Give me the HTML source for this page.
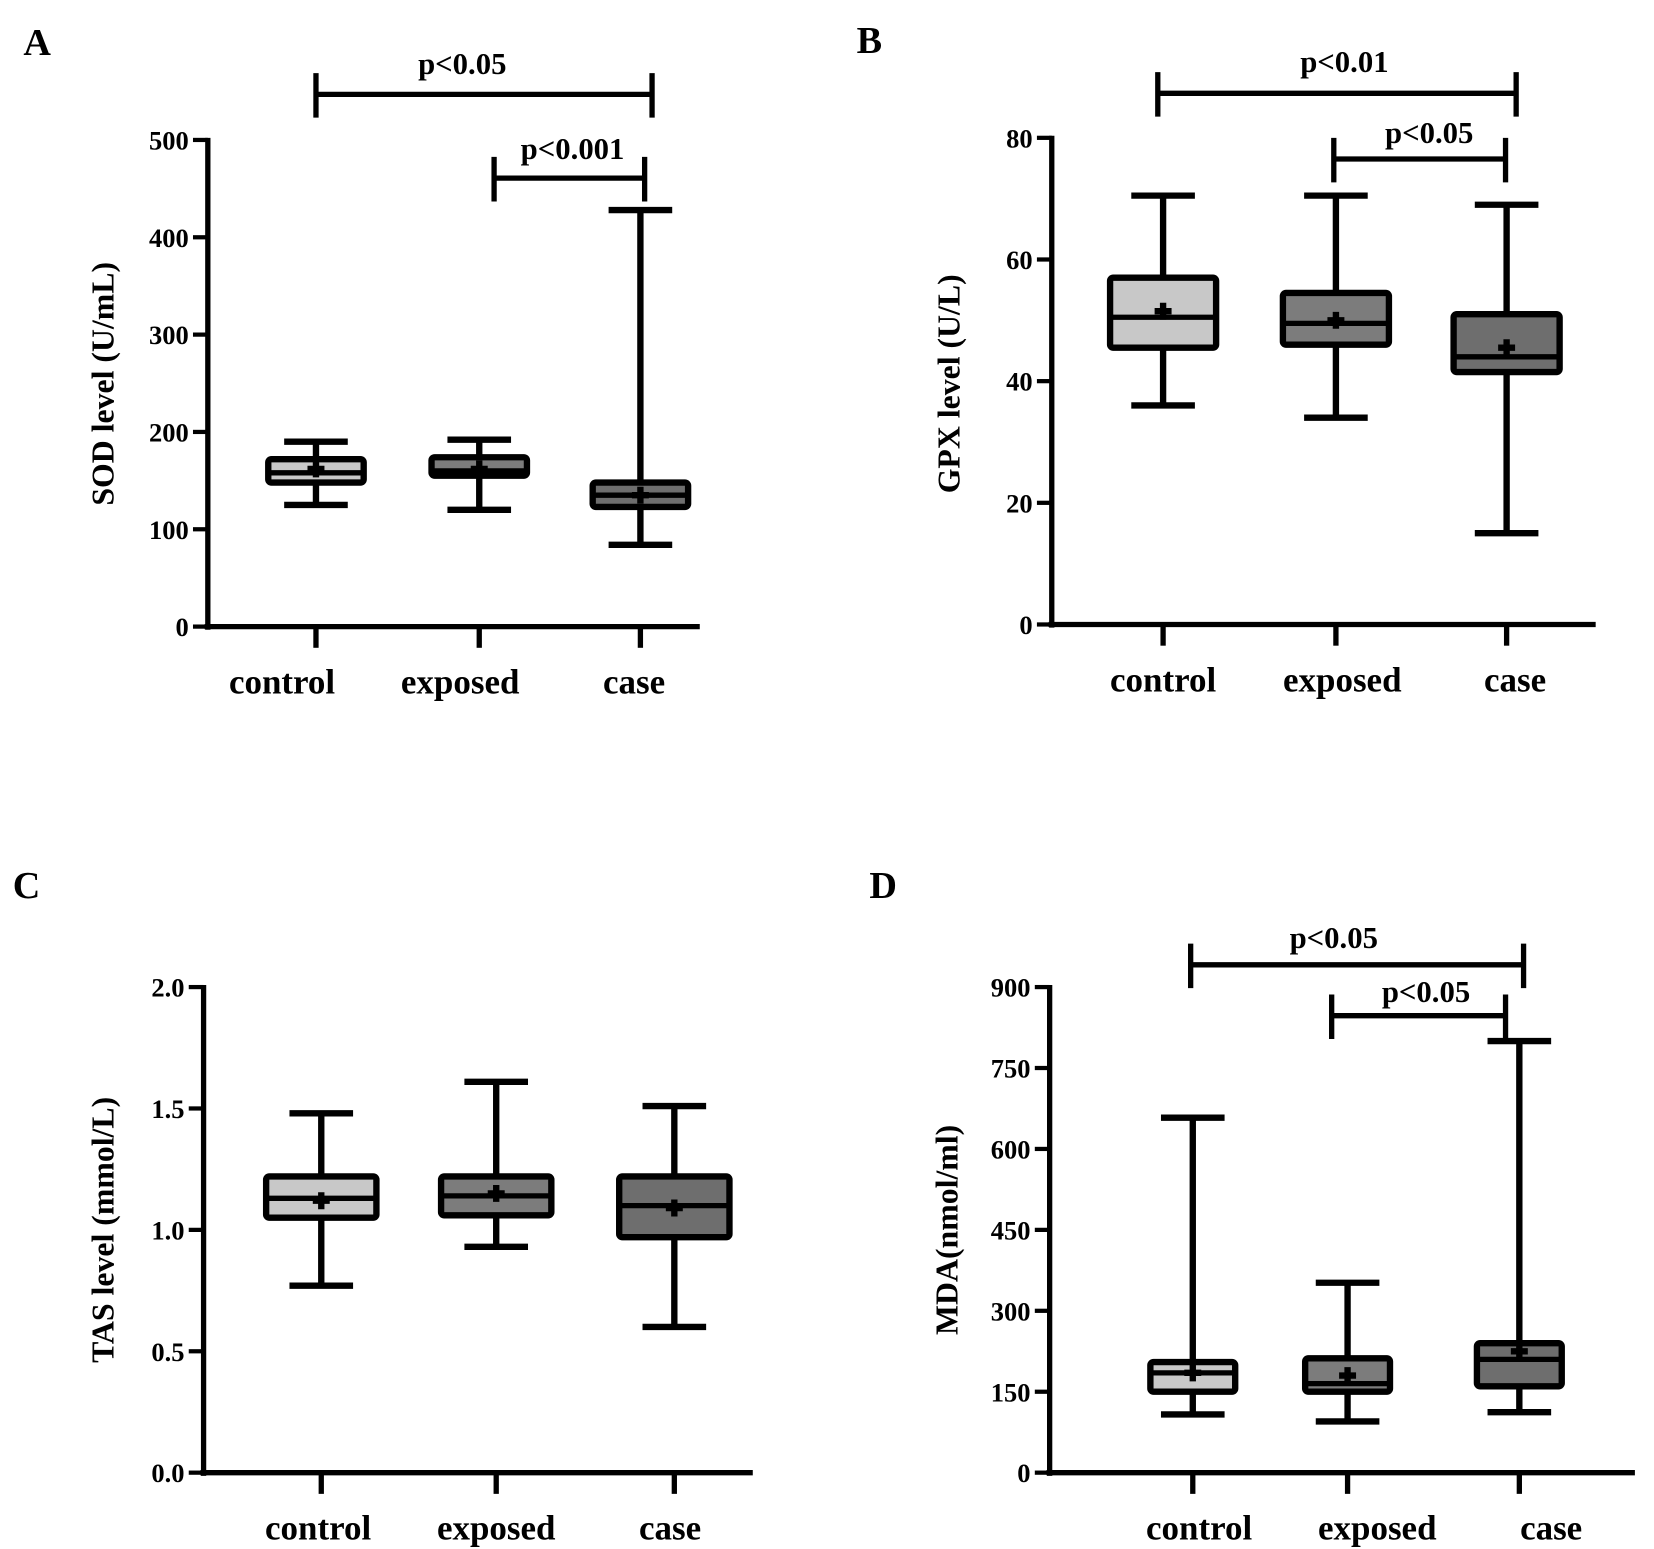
<!DOCTYPE html>
<html><head><meta charset="utf-8"><style>
html,body{margin:0;padding:0;background:#fff}
svg{display:block}
text{font-family:"Liberation Serif",serif;font-weight:bold;fill:#000}
</style></head><body>
<svg id="fig" width="1654" height="1549" viewBox="0 0 1560 1461" xmlns="http://www.w3.org/2000/svg"></svg>
<script>
const categories = ["control","exposed","case"];
// Panel A: SOD
const sodWhiskLow=[125,120,84], sodQ1=[148,155,123], sodMedian=[158,160,135], sodQ3=[172,174,148], sodWhiskHigh=[190,192,428], sodMean=[162,162,135];
const sodTicks=[0,100,200,300,400,500], sodTickLabels=["0","100","200","300","400","500"];
// Panel B: GPX
const gpxWhiskLow=[36,34,15], gpxQ1=[45.5,46,41.5], gpxMedian=[50.5,49.5,44], gpxQ3=[57,54.5,51], gpxWhiskHigh=[70.5,70.5,69], gpxMean=[51.5,50,45.5];
const gpxTicks=[0,20,40,60,80], gpxTickLabels=["0","20","40","60","80"];
// Panel C: TAS
const tasWhiskLow=[0.77,0.93,0.6], tasQ1=[1.05,1.06,0.97], tasMedian=[1.13,1.14,1.1], tasQ3=[1.22,1.22,1.22], tasWhiskHigh=[1.48,1.61,1.51], tasMean=[1.12,1.15,1.09];
const tasTicks=[0,0.5,1,1.5,2], tasTickLabels=["0.0","0.5","1.0","1.5","2.0"];
// Panel D: MDA
const mdaWhiskLow=[108,95,112], mdaQ1=[150,150,160], mdaMedian=[185,165,210], mdaQ3=[205,212,240], mdaWhiskHigh=[658,352,800], mdaMean=[185,180,225];
const mdaTicks=[0,150,300,450,600,750,900], mdaTickLabels=["0","150","300","450","600","750","900"];

const fills=["#c8c8c8","#7c7c7c","#6e6e6e"];
const svg=document.getElementById('fig');
const NS="http://www.w3.org/2000/svg";
function mk(tag,attrs,parent,name){const e=document.createElementNS(NS,tag);for(const k in attrs)e.setAttribute(k,attrs[k]);


(parent||svg).appendChild(e);return e;}
function txt(x,y,s,size,parent,name,anchor,extra){const t=mk('text',Object.assign({x:x,y:y,'font-size':size,'text-anchor':anchor||'middle'},extra||{}),parent,name);t.textContent=s;return t;}

function panel(cfg){
  const g=mk('g',{},svg,'panel-'+cfg.letter.toLowerCase());
  const y=v=>cfg.y0+(cfg.y1-cfg.y0)*(v-cfg.vmin)/(cfg.vmax-cfg.vmin);
  const x=i=>cfg.xs[i];
  txt(cfg.lx,cfg.ly,cfg.letter,36,g,'panel-letter','start');
  // axes
  mk('line',{x1:cfg.ax,y1:cfg.y1-2,x2:cfg.ax,y2:cfg.y0+3,stroke:'#000','stroke-width':5},g,'y-axis');
  mk('line',{x1:cfg.ax-3,y1:cfg.y0,x2:cfg.axEnd,y2:cfg.y0,stroke:'#000','stroke-width':5},g,'x-axis');
  cfg.ticks.forEach((t,i)=>{
    mk('line',{x1:cfg.ax-14,y1:y(t),x2:cfg.ax,y2:y(t),stroke:'#000','stroke-width':4},g,'y-tick');
    txt(cfg.ax-18,y(t)+9,cfg.tickLabels[i],25,g,'y-tick-label','end');
  });
  txt(0,0,cfg.ylabel,30,g,'y-axis-title','middle',{transform:`translate(${cfg.ylx},${cfg.yly}) rotate(-90)`});
  categories.forEach((c,i)=>{
    mk('line',{x1:x(i),y1:cfg.y0,x2:x(i),y2:cfg.y0+20,stroke:'#000','stroke-width':5},g,'x-tick');
    txt(x(i)+(cfg.lblOff?cfg.lblOff[i]:0),cfg.y0+63,c,33,g,'x-tick-label');
    const bw=cfg.bw, cw=30;
    mk('line',{x1:x(i),y1:y(cfg.lo[i]),x2:x(i),y2:y(cfg.hi[i]),stroke:'#000','stroke-width':6},g,'whisker-'+c);
    mk('line',{x1:x(i)-cw,y1:y(cfg.lo[i]),x2:x(i)+cw,y2:y(cfg.lo[i]),stroke:'#000','stroke-width':6},g,'whisker-cap-low-'+c);
    mk('line',{x1:x(i)-cw,y1:y(cfg.hi[i]),x2:x(i)+cw,y2:y(cfg.hi[i]),stroke:'#000','stroke-width':6},g,'whisker-cap-high-'+c);
    mk('rect',{x:x(i)-bw,y:y(cfg.q3[i]),width:2*bw,height:y(cfg.q1[i])-y(cfg.q3[i]),fill:fills[i],stroke:'#000','stroke-width':6,rx:3},g,'box-'+c);
    mk('line',{x1:x(i)-bw,y1:y(cfg.med[i]),x2:x(i)+bw,y2:y(cfg.med[i]),stroke:'#000','stroke-width':5},g,'median-'+c);
    const m=y(cfg.mean[i]);
    mk('path',{d:`M${x(i)-8},${m}h16M${x(i)},${m-8}v16`,stroke:'#000','stroke-width':6},g,'mean-marker-'+c);
  });
  cfg.sig.forEach(s=>{
    mk('path',{d:`M${s[0]},${s[2]-20}v42M${s[0]},${s[2]}H${s[1]}M${s[1]},${s[2]-20}v42`,stroke:'#000','stroke-width':5,fill:'none'},g,'significance-bracket');
    txt(s[3],s[4],s[5],29,g,'significance-label');
  });
}
panel({letter:'A',lx:22,ly:52,ax:196,axEnd:660,y0:591,y1:132,vmin:0,vmax:500,xs:[298,452,604],bw:45,
 lo:sodWhiskLow,q1:sodQ1,med:sodMedian,q3:sodQ3,hi:sodWhiskHigh,mean:sodMean,ticks:sodTicks,tickLabels:sodTickLabels,
 ylabel:'SOD  level (U/mL)',ylx:107,yly:362,lblOff:[-32,-18,-6],
 sig:[[298,615,89,436,70,'p<0.05'],[466,608,168,540,150,'p<0.001']]});
panel({letter:'B',lx:808,ly:50,ax:992,axEnd:1505,y0:589,y1:130,vmin:0,vmax:80,xs:[1097,1260,1421],bw:50,
 lo:gpxWhiskLow,q1:gpxQ1,med:gpxMedian,q3:gpxQ3,hi:gpxWhiskHigh,mean:gpxMean,ticks:gpxTicks,tickLabels:gpxTickLabels,
 ylabel:'GPX level (U/L)',ylx:905,yly:362,lblOff:[0,6,8],
 sig:[[1092,1430,88,1268,68,'p<0.01'],[1258,1420,150,1348,135,'p<0.05']]});
panel({letter:'C',lx:12,ly:847,ax:192,axEnd:710,y0:1389,y1:931,vmin:0,vmax:2,xs:[303,468,636],bw:52,
 lo:tasWhiskLow,q1:tasQ1,med:tasMedian,q3:tasQ3,hi:tasWhiskHigh,mean:tasMean,ticks:tasTicks,tickLabels:tasTickLabels,
 ylabel:'TAS level (mmol/L)',ylx:107,yly:1160,lblOff:[-3,0,-4],
 sig:[]});
panel({letter:'D',lx:820,ly:847,ax:990,axEnd:1542,y0:1389,y1:931,vmin:0,vmax:900,xs:[1125,1271,1433],bw:40,
 lo:mdaWhiskLow,q1:mdaQ1,med:mdaMedian,q3:mdaQ3,hi:mdaWhiskHigh,mean:mdaMean,ticks:mdaTicks,tickLabels:mdaTickLabels,
 ylabel:'MDA(nmol/ml)',ylx:903,yly:1160,lblOff:[6,28,30],
 sig:[[1123,1437,910,1258,894,'p<0.05'],[1256,1420,958,1345,945,'p<0.05']]});
</script>
</body></html>
